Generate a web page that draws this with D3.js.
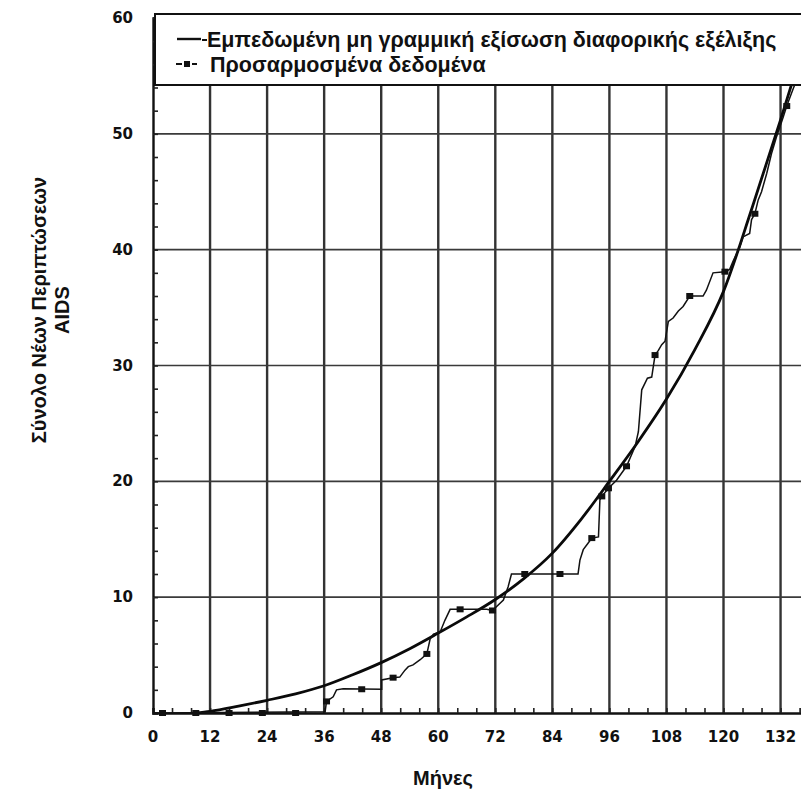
<!DOCTYPE html>
<html>
<head>
<meta charset="utf-8">
<script src="https://cdn.jsdelivr.net/npm/d3@7"></script>
<style>
  html, body { margin: 0; padding: 0; background: #fff; }
  svg { display: block; }
  text { font-family: "Liberation Sans", Arial, sans-serif; fill: #111; }
</style>
</head>
<body>
<svg id="chart" width="801" height="794"></svg>
<script>
// ---------- data ----------
const xTicks = [0, 12, 24, 36, 48, 60, 72, 84, 96, 108, 120, 132];
const yTicks = [0, 10, 20, 30, 40, 50, 60];

// fitted non-linear differential evolution equation
const fitMonths = [9, 12, 18, 24, 30, 36, 42, 48, 54, 60, 66, 72, 78, 84, 90, 96, 102, 108, 114, 120, 126, 132, 136];
const fitValues = [0, 0.15, 0.6, 1.1, 1.65, 2.35, 3.3, 4.35, 5.55, 6.9, 8.3, 9.8, 11.6, 13.8, 16.7, 20.0, 23.4, 27.1, 31.4, 36.4, 43.6, 51.2, 56.5];

// adjusted data (jagged path)
const dataMonths = [0, 36.2, 36.5, 37.9, 38.6, 40.0, 48.1, 48.1, 50.5, 51.9, 53.0, 53.7, 54.7, 56.2, 57.6, 58.3, 59.0, 60.4, 61.4, 62.5, 70.2, 71.4, 73.7, 74.7, 75.4, 89.4, 89.8, 90.5, 91.5, 92.3, 93.7, 94.0, 94.4, 95.8, 97.5, 99.6, 101.4, 102.1, 102.8, 104.0, 104.9, 105.6, 106.3, 107.0, 107.7, 108.4, 109.4, 110.5, 111.5, 112.9, 115.7, 116.4, 117.8, 120.3, 121.3, 122.0, 123.4, 124.1, 125.5, 125.9, 126.6, 127.3, 128.0, 129.1, 130.1, 131.2, 132.6, 133.3, 134.3, 135.6];
const dataValues = [0, 0.1, 1.0, 1.4, 2.0, 2.1, 2.05, 2.85, 3.05, 3.1, 3.7, 4.0, 4.15, 4.6, 5.1, 6.4, 6.8, 7.0, 8.0, 8.95, 8.95, 8.85, 9.75, 10.9, 12.0, 12.0, 13.2, 14.1, 14.65, 15.1, 15.2, 18.4, 18.7, 19.4, 20.1, 21.3, 23.0, 24.3, 27.9, 28.9, 29.0, 30.9, 31.3, 31.8, 32.1, 33.8, 34.1, 34.7, 35.1, 36.0, 36.0, 36.5, 38.0, 38.1, 38.3, 39.0, 40.2, 41.1, 41.4, 42.6, 43.1, 44.3, 45.0, 46.6, 48.3, 49.8, 51.5, 52.4, 53.5, 54.9];

// square markers on the adjusted data
const markerMonths = [2, 9, 16, 23, 30, 36.5, 43.9, 50.5, 57.6, 64.6, 71.4, 78.2, 85.6, 92.3, 94.4, 95.8, 99.6, 105.6, 112.9, 120.3, 126.6, 133.3];
const markerValues = [0, 0, 0, 0, 0, 1.0, 2.05, 3.05, 5.1, 8.95, 8.85, 12.0, 12.0, 15.1, 18.7, 19.4, 21.3, 30.9, 36.0, 38.1, 43.1, 52.4];

const legendLabels = ["Εμπεδωμένη μη γραμμική εξίσωση διαφορικής εξέλιξης", "Προσαρμοσμένα δεδομένα"];
const xTitle = "Μήνες";
const yTitle = ["Σύνολο Νέων Περιπτώσεων", "AIDS"];

// ---------- layout ----------
const svg = d3.select("#chart");
const x = d3.scaleLinear().domain([0, 136.3]).range([153, 801]);
const y = d3.scaleLinear().domain([0, 60]).range([713, 18]);

// grid: vertical every 12 months
svg.append("g").selectAll("line").data(xTicks.filter(d => d > 0)).join("line")
  .attr("x1", d => x(d)).attr("x2", d => x(d))
  .attr("y1", y(0)).attr("y2", y(60))
  .attr("stroke", "#333").attr("stroke-width", 2.4);

// grid: horizontal every 10
svg.append("g").selectAll("line").data(yTicks.filter(d => d > 0)).join("line")
  .attr("x1", x(0)).attr("x2", 801)
  .attr("y1", d => y(d)).attr("y2", d => y(d))
  .attr("stroke", "#3a3a3a").attr("stroke-width", 1.7);

// axes with inward minor ticks
const xAxis = d3.axisTop(x).tickValues(d3.range(0, 137, 4)).tickSize(5).tickFormat("");
const gx = svg.append("g").attr("transform", `translate(0,${y(0)})`).call(xAxis);
gx.select(".domain").attr("stroke", "#111").attr("stroke-width", 2.4);
gx.selectAll(".tick line").attr("stroke", "#222").attr("stroke-width", 1.6);

const yAxis = d3.axisRight(y).tickValues(d3.range(0, 61, 2)).tickSize(5).tickFormat("");
const gy = svg.append("g").attr("transform", `translate(${x(0)},0)`).call(yAxis);
gy.select(".domain").attr("stroke", "#111").attr("stroke-width", 2.4);
gy.selectAll(".tick line").attr("stroke", "#222").attr("stroke-width", 1.6);

// tick labels
const tickFont = "'DejaVu Sans', Verdana, sans-serif";
svg.append("g").selectAll("text").data(xTicks).join("text")
  .attr("x", d => x(d)).attr("y", y(0) + 29)
  .attr("text-anchor", "middle").attr("font-size", 15).attr("font-weight", "bold")
  .style("font-family", tickFont)
  .text(d => d);
svg.append("g").selectAll("text").data(yTicks).join("text")
  .attr("x", x(0) - 20).attr("y", d => y(d) + 5)
  .attr("text-anchor", "end").attr("font-size", 15).attr("font-weight", "bold")
  .style("font-family", tickFont)
  .text(d => d);

// fitted curve
const fitPts = fitMonths.map((m, i) => [m, fitValues[i]]);
svg.append("path").datum(fitPts)
  .attr("d", d3.line().x(d => x(d[0])).y(d => y(d[1])).curve(d3.curveMonotoneX))
  .attr("fill", "none").attr("stroke", "#0a0a0a").attr("stroke-width", 2.8);

// adjusted data
const dataPts = dataMonths.map((m, i) => [m, dataValues[i]]);
svg.append("path").datum(dataPts)
  .attr("d", d3.line().x(d => x(d[0])).y(d => y(d[1])))
  .attr("fill", "none").attr("stroke", "#111").attr("stroke-width", 1.5);

svg.append("g").selectAll("rect").data(markerMonths.map((m, i) => [m, markerValues[i]])).join("rect")
  .attr("x", d => x(d[0]) - 3.5).attr("y", d => y(d[1]) - 3)
  .attr("width", 7).attr("height", 6).attr("fill", "#111");

// legend box
const lg = svg.append("g");
lg.append("rect").attr("x", 155).attr("y", 14).attr("width", 660).attr("height", 71)
  .attr("fill", "#fff").attr("stroke", "#111").attr("stroke-width", 2);
// symbol 1: solid line + dash
lg.append("line").attr("x1", 177).attr("x2", 201).attr("y1", 39).attr("y2", 39).attr("stroke", "#111").attr("stroke-width", 2.4);
lg.append("line").attr("x1", 202).attr("x2", 207).attr("y1", 40).attr("y2", 40).attr("stroke", "#111").attr("stroke-width", 2);
lg.append("text").attr("x", 207).attr("y", 47).attr("font-size", 21.5).attr("font-weight", "bold").text(legendLabels[0]);
// symbol 2: dash square dash
lg.append("line").attr("x1", 176).attr("x2", 182).attr("y1", 64).attr("y2", 64).attr("stroke", "#111").attr("stroke-width", 2);
lg.append("rect").attr("x", 184).attr("y", 61).attr("width", 6).attr("height", 6).attr("fill", "#111");
lg.append("line").attr("x1", 192).attr("x2", 197).attr("y1", 64).attr("y2", 64).attr("stroke", "#111").attr("stroke-width", 2);
lg.append("text").attr("x", 210).attr("y", 72).attr("font-size", 21.5).attr("font-weight", "bold").text(legendLabels[1]);

// axis titles
svg.append("text").attr("x", 443).attr("y", 785).attr("text-anchor", "middle")
  .attr("font-size", 20).attr("font-weight", "bold").text(xTitle);
const yt = svg.append("text").attr("transform", "translate(46,310) rotate(-90)")
  .attr("text-anchor", "middle").attr("font-size", 20).attr("font-weight", "bold");
yt.append("tspan").attr("x", 0).attr("dy", 0).text(yTitle[0]);
yt.append("tspan").attr("x", 0).attr("dy", 23).text(yTitle[1]);
</script>
</body>
</html>
